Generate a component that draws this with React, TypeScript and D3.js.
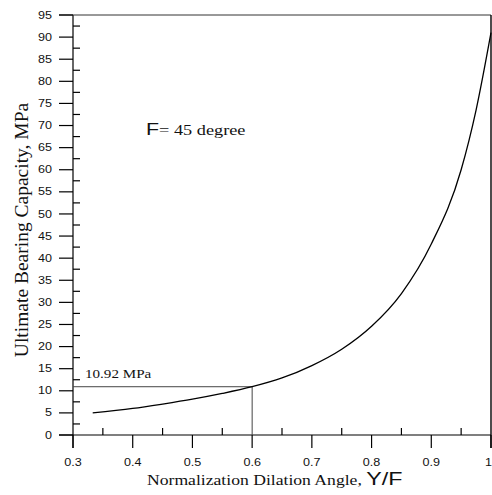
import React from "react";
import * as d3 from "d3";

const dilationRatio = [0.333, 0.4, 0.45, 0.5, 0.55, 0.6, 0.65, 0.7, 0.75, 0.8, 0.85, 0.9, 0.95, 0.975, 1.0];
const capacity = [5.0, 6.0, 7.0, 8.1, 9.4, 10.92, 12.9, 15.7, 19.4, 24.6, 32.0, 43.2, 60.0, 73.5, 91.0];
const xMajorTicks = [0.3, 0.4, 0.5, 0.6, 0.7, 0.8, 0.9, 1.0];
const xMinorTicks = [0.35, 0.45, 0.55, 0.65, 0.75, 0.85, 0.95];
const yMajorTicks = d3.range(0, 96, 5);
const yMinorTicks = d3.range(2.5, 95, 5);
const refX = 0.6;
const refY = 10.92;

const W = 492;
const H = 495;
const SX = 1.26;

export default function App() {
  const x = d3.scaleLinear().domain([0.3, 1.0]).range([73, 491]);
  const y = d3.scaleLinear().domain([0, 95]).range([435, 15]);
  const line = d3
    .line<number>()
    .x((_, i) => x(dilationRatio[i]))
    .y((d) => y(d))
    .curve(d3.curveMonotoneX);

  const sans = "'Liberation Sans', Arial, sans-serif";
  const serif = "'Liberation Serif', 'Times New Roman', serif";

  return (
    <svg
      width={W}
      height={H}
      style={{ position: "absolute", left: 0, top: 0, background: "#fff" }}
    >
      <rect x={0} y={0} width={W} height={H} fill="#fff" />
      {/* frame */}
      <line x1={x(0.3)} x2={x(0.3)} y1={y(95)} y2={y(0) + 13} stroke="#000" strokeWidth={1.2} />
      <line x1={x(0.3) - 14} x2={x(1.0)} y1={y(0)} y2={y(0)} stroke="#000" strokeWidth={1.2} />
      <line x1={x(0.3) - 14} x2={x(1.0)} y1={y(95)} y2={y(95)} stroke="#333" strokeWidth={1} />
      <line x1={x(1.0)} x2={x(1.0)} y1={y(95)} y2={y(0) + 13} stroke="#000" strokeWidth={1.4} />

      {/* y ticks */}
      {yMajorTicks.map((t) => (
        <g key={"ym" + t}>
          <line x1={x(0.3) - 14} x2={x(0.3)} y1={y(t)} y2={y(t)} stroke="#000" strokeWidth={1.2} />
          <text
            transform={`translate(52,${y(t) + 3.6}) scale(${SX},1)`}
            textAnchor="end"
            fontFamily={sans}
            fontSize={10}
            fill="#111"
          >
            {t}
          </text>
        </g>
      ))}
      {yMinorTicks.map((t) => (
        <line key={"yn" + t} x1={x(0.3)} x2={x(0.3) + 7} y1={y(t)} y2={y(t)} stroke="#000" strokeWidth={1.2} />
      ))}

      {/* x ticks */}
      {xMajorTicks.map((t) => (
        <g key={"xm" + t}>
          <line x1={x(t)} x2={x(t)} y1={y(0)} y2={y(0) + 13} stroke="#000" strokeWidth={1.2} />
          <text
            transform={`translate(${t === 1 ? 492 : x(t)},${y(0) + 31}) scale(${SX},1)`}
            textAnchor={t === 1 ? "end" : "middle"}
            fontFamily={sans}
            fontSize={10}
            fill="#111"
          >
            {t === 1 ? "1" : t.toFixed(1)}
          </text>
        </g>
      ))}
      {xMinorTicks.map((t) => (
        <line key={"xn" + t} x1={x(t)} x2={x(t)} y1={y(0)} y2={y(0) - 7} stroke="#000" strokeWidth={1.2} />
      ))}

      {/* reference lines */}
      <line x1={x(0.3)} x2={x(refX)} y1={y(refY)} y2={y(refY)} stroke="#444" strokeWidth={1} />
      <line x1={x(refX)} x2={x(refX)} y1={y(refY)} y2={y(0)} stroke="#444" strokeWidth={1} />

      {/* curve */}
      <path d={line(capacity) || ""} fill="none" stroke="#000" strokeWidth={1.3} />

      {/* annotations */}
      <text
        transform={`translate(85,378) scale(${SX},1)`}
        fontFamily={serif}
        fontSize={12}
        fill="#111"
      >
        10.92 MPa
      </text>
      <text transform={`translate(146,135) scale(${SX},1)`} fill="#111">
        <tspan fontFamily={sans} fontSize={17}>F</tspan>
        <tspan fontFamily={serif} fontSize={14.5}>= 45 degree</tspan>
      </text>

      {/* axis titles */}
      <text transform={`translate(147,485) scale(${SX},1)`} fill="#111">
        <tspan fontFamily={serif} fontSize={14}>Normalization Dilation Angle, </tspan>
        <tspan fontFamily={sans} fontSize={18.5}>Y/F</tspan>
      </text>
      <text
        transform={`translate(28,230) rotate(-90)`}
        textAnchor="middle"
        fontFamily={serif}
        fontSize={19.5}
        fill="#111"
      >
        Ultimate Bearing Capacity, MPa
      </text>
    </svg>
  );
}
